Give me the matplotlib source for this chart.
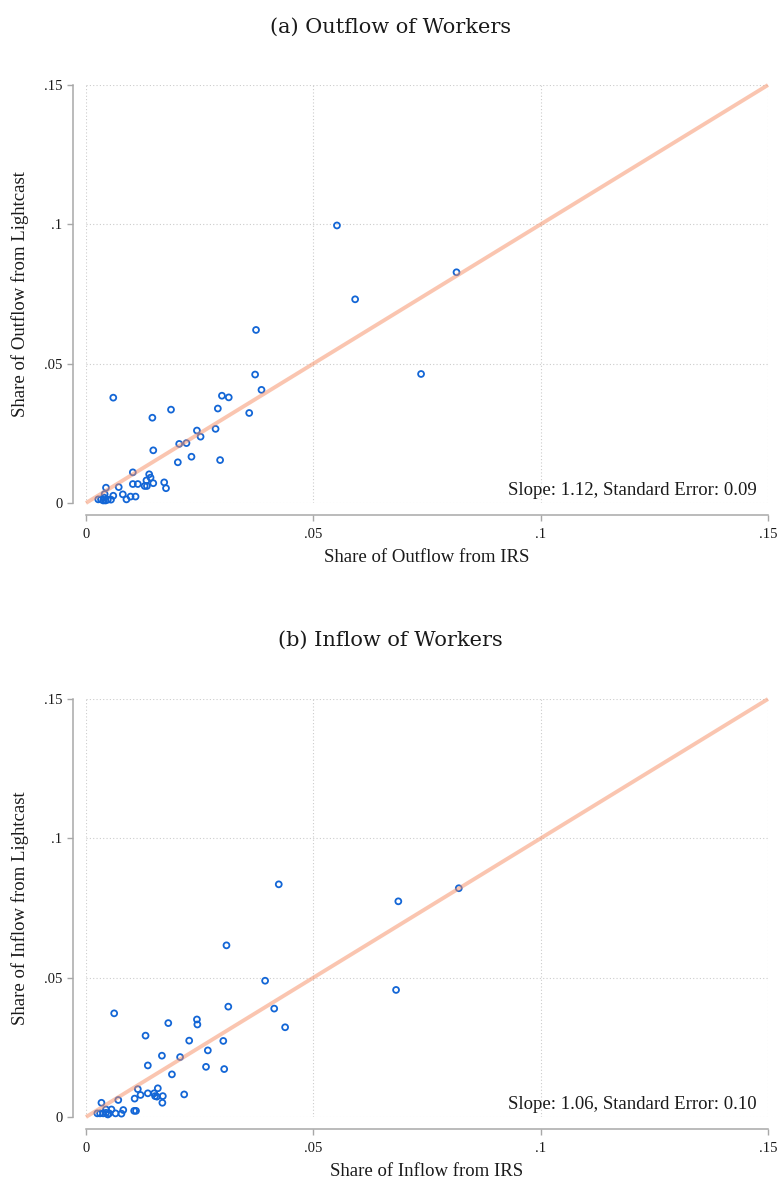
import matplotlib
matplotlib.use("Agg")
import matplotlib.pyplot as plt

# panel (a): outflow shares, IRS (x) vs Lightcast (y)
out_irs = [0.0552, 0.0815, 0.0592, 0.0374, 0.0372, 0.0737, 0.0386, 0.0060, 0.0299, 0.0314,
           0.0187, 0.0290, 0.0359, 0.0146, 0.0244, 0.0285, 0.0252, 0.0205, 0.0221, 0.0148,
           0.0232, 0.0202, 0.0295, 0.0103, 0.0139, 0.0142, 0.0133, 0.0148, 0.0129, 0.0134,
           0.0103, 0.0114, 0.0172, 0.0176, 0.0044, 0.0072, 0.0041, 0.0060, 0.0081, 0.0098,
           0.0109, 0.0089, 0.0027, 0.0033, 0.0038, 0.0043, 0.0048, 0.0055, 0.0040]
out_lc = [0.0996, 0.0828, 0.0731, 0.0621, 0.0461, 0.0463, 0.0406, 0.0378, 0.0385, 0.0379,
          0.0335, 0.0339, 0.0323, 0.0306, 0.0260, 0.0266, 0.0238, 0.0212, 0.0215, 0.0189,
          0.0166, 0.0146, 0.0154, 0.0110, 0.0103, 0.0091, 0.0081, 0.0071, 0.0061, 0.0061,
          0.0068, 0.0068, 0.0074, 0.0053, 0.0055, 0.0057, 0.0032, 0.0026, 0.0031, 0.0023,
          0.0023, 0.0013, 0.0013, 0.0013, 0.0009, 0.0009, 0.0012, 0.0012, 0.0019]

# panel (b): inflow shares
in_irs = [0.0424, 0.0820, 0.0687, 0.0309, 0.0394, 0.0682, 0.0313, 0.0414, 0.0062, 0.0181,
          0.0244, 0.0245, 0.0438, 0.0131, 0.0227, 0.0302, 0.0268, 0.0167, 0.0207, 0.0136,
          0.0264, 0.0304, 0.0189, 0.0114, 0.0158, 0.0120, 0.0136, 0.0150, 0.0152, 0.0156,
          0.0169, 0.0216, 0.0107, 0.0168, 0.0071, 0.0034, 0.0106, 0.0110, 0.0082, 0.0078,
          0.0056, 0.0044, 0.0065, 0.0025, 0.0031, 0.0038, 0.0044, 0.0048, 0.0051]
in_lc = [0.0835, 0.0821, 0.0774, 0.0616, 0.0489, 0.0456, 0.0396, 0.0389, 0.0372, 0.0337,
         0.0350, 0.0332, 0.0322, 0.0292, 0.0274, 0.0273, 0.0239, 0.0220, 0.0215, 0.0185,
         0.0180, 0.0172, 0.0153, 0.0100, 0.0103, 0.0079, 0.0085, 0.0085, 0.0075, 0.0073,
         0.0075, 0.0081, 0.0066, 0.0051, 0.0061, 0.0051, 0.0022, 0.0022, 0.0025, 0.0012,
         0.0027, 0.0027, 0.0013, 0.0013, 0.0013, 0.0013, 0.0015, 0.0009, 0.0013]

ticks = [0, 0.05, 0.1, 0.15]
tick_labels = ["0", ".05", ".1", ".15"]

panels = [
    ("(a) Outflow of Workers", out_irs, out_lc, "Share of Outflow from IRS",
     "Share of Outflow from Lightcast", "Slope: 1.12, Standard Error: 0.09"),
    ("(b) Inflow of Workers", in_irs, in_lc, "Share of Inflow from IRS",
     "Share of Inflow from Lightcast", "Slope: 1.06, Standard Error: 0.10"),
]

plt.rcParams["font.family"] = ["Liberation Serif", "DejaVu Serif"]

fig = plt.figure(figsize=(7.81, 11.81), dpi=100)
fig.patch.set_facecolor("white")

boxes = [[0.1101, 0.5741, 0.8732, 0.3539], [0.1101, 0.0542, 0.8732, 0.3539]]
title_y = [0.977, 0.458]

for (title, xs, ys, xlab, ylab, note), box, ty in zip(panels, boxes, title_y):
    ax = fig.add_axes(box)
    ax.set_xlim(0, 0.15)
    ax.set_ylim(0, 0.15)
    ax.set_xticks(ticks)
    ax.set_xticklabels(tick_labels)
    ax.set_yticks(ticks)
    ax.set_yticklabels(tick_labels)
    ax.grid(True, color="#cccccc", linestyle=(0, (1, 2)), linewidth=0.8)
    ax.set_axisbelow(True)
    for s in ["top", "right"]:
        ax.spines[s].set_visible(False)
    ax.spines["left"].set_position(("outward", 9.4))
    ax.spines["bottom"].set_position(("outward", 8.6))
    for s in ["left", "bottom"]:
        ax.spines[s].set_bounds(0, 0.15)
        ax.spines[s].set_color("#a8a8a8")
        ax.spines[s].set_linewidth(1.1)
    ax.tick_params(colors="#a8a8a8", labelcolor="#1a1a1a", length=4.5, width=1.0,
                   labelsize=10.5, pad=3)
    ax.tick_params(axis="x", pad=5)

    ax.scatter(xs, ys, s=18, facecolors="none", edgecolors="#1366d6",
               linewidths=1.3, zorder=3, clip_on=False)
    ax.plot([0, 0.15], [0, 0.15], color="#f78d62", alpha=0.5, linewidth=2.8,
            zorder=4, clip_on=False, solid_capstyle="butt")

    ax.text(0.984, 0.018, note, transform=ax.transAxes, ha="right", va="baseline",
            fontsize=13.5, color="#1a1a1a")
    ax.set_xlabel(xlab, fontsize=13.5, color="#1a1a1a")
    ax.set_ylabel(ylab, fontsize=13.5, color="#1a1a1a")
    ax.xaxis.set_label_coords(0.5, -0.11)
    ax.yaxis.set_label_coords(-0.083, 0.5)
    fig.text(0.5, ty, title, ha="center", va="center", fontsize=15,
             family="DejaVu Serif", color="#1a1a1a")

fig.savefig("out.png", dpi=100)
